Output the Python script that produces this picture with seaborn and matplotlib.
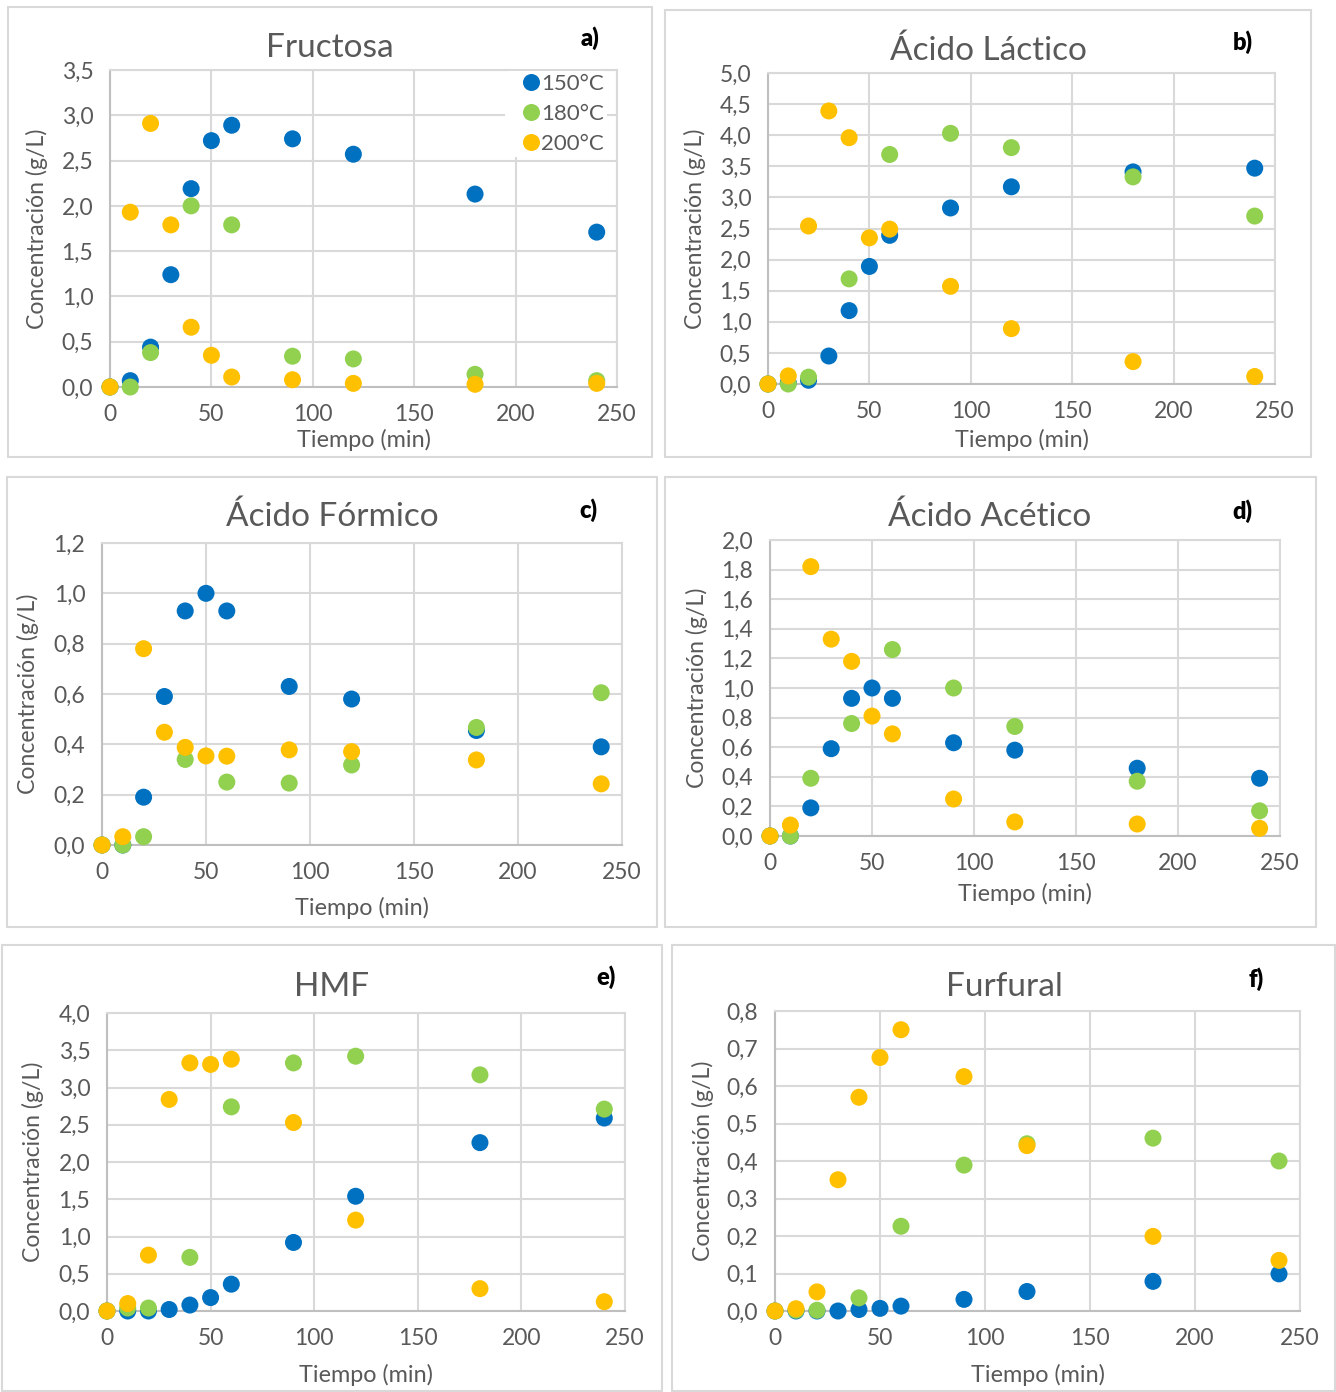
import numpy as np
import pandas as pd
import matplotlib
matplotlib.use("Agg")
import matplotlib.pyplot as plt
import seaborn as sns
from matplotlib.ticker import FuncFormatter, MultipleLocator
from matplotlib.patches import Rectangle

# ---------------- data ----------------
times150 = [0, 10, 20, 30, 40, 50, 60, 90, 120, 180, 240]
times180 = [0, 10, 20, 40, 60, 90, 120, 180, 240]
times200 = [0, 10, 20, 30, 40, 50, 60, 90, 120, 180, 240]
temps = ["150°C", "180°C", "200°C"]

fru150 = [0.0, 0.07, 0.44, 1.24, 2.19, 2.72, 2.89, 2.74, 2.57, 2.13, 1.71]
fru180 = [0.0, 0.0, 0.38, 2.00, 1.79, 0.34, 0.31, 0.14, 0.07]
fru200 = [0.0, 1.93, 2.91, 1.79, 0.66, 0.35, 0.11, 0.08, 0.04, 0.03, 0.04]

lac150 = [0.0, 0.02, 0.06, 0.45, 1.18, 1.89, 2.39, 2.83, 3.17, 3.41, 3.47]
lac180 = [0.0, 0.0, 0.11, 1.69, 3.69, 4.03, 3.80, 3.33, 2.70]
lac200 = [0.0, 0.13, 2.54, 4.39, 3.96, 2.35, 2.49, 1.57, 0.89, 0.36, 0.12]

for150 = [0.0, 0.0, 0.19, 0.59, 0.93, 1.00, 0.93, 0.63, 0.58, 0.455, 0.39]
for180 = [0.0, 0.0, 0.033, 0.34, 0.25, 0.246, 0.318, 0.467, 0.605]
for200 = [0.0, 0.033, 0.78, 0.448, 0.388, 0.354, 0.353, 0.378, 0.371, 0.338, 0.243]

ace150 = [0.0, 0.0, 0.19, 0.59, 0.93, 1.00, 0.93, 0.63, 0.58, 0.458, 0.39]
ace180 = [0.0, 0.0, 0.39, 0.76, 1.26, 1.00, 0.74, 0.37, 0.17]
ace200 = [0.0, 0.074, 1.82, 1.33, 1.18, 0.81, 0.69, 0.25, 0.095, 0.081, 0.052]

hmf150 = [0.0, 0.0, 0.0, 0.02, 0.08, 0.18, 0.36, 0.92, 1.54, 2.26, 2.59]
hmf180 = [0.0, 0.04, 0.04, 0.72, 2.74, 3.33, 3.42, 3.17, 2.71]
hmf200 = [0.0, 0.10, 0.75, 2.84, 3.33, 3.31, 3.38, 2.53, 1.22, 0.30, 0.125]

fur150 = [0.0, 0.0, 0.0, 0.0, 0.004, 0.007, 0.013, 0.031, 0.052, 0.079, 0.099]
fur180 = [0.0, 0.002, 0.002, 0.035, 0.226, 0.389, 0.446, 0.461, 0.40]
fur200 = [0.0, 0.006, 0.051, 0.35, 0.57, 0.676, 0.75, 0.625, 0.441, 0.199, 0.135]

titles = ["Fructosa", "Ácido Láctico", "Ácido Fórmico", "Ácido Acético", "HMF", "Furfural"]
letters = ["a)", "b)", "c)", "d)", "e)", "f)"]
ymax = [3.5, 5.0, 1.2, 2.0, 4.0, 0.8]
ystep = [0.5, 0.5, 0.2, 0.2, 0.5, 0.1]
series = [(fru150, fru180, fru200), (lac150, lac180, lac200), (for150, for180, for200),
          (ace150, ace180, ace200), (hmf150, hmf180, hmf200), (fur150, fur180, fur200)]

# ---------------- style ----------------
sns.set_theme(style="white")
plt.rcParams["font.family"] = ["Lato", "DejaVu Sans"]
TXT = "#595959"
GRID = "#D9D9D9"
palette = {"150°C": "#0070C0", "180°C": "#92D050", "200°C": "#FFC000"}

W, H = 1336, 1392
fig = plt.figure(figsize=(W / 100, H / 100), dpi=100)

def fx(x):
    return x / W

def fy(y):
    return 1 - y / H

# layout in pixels
plot_boxes = [(110, 70, 617, 387), (768, 73, 1275, 384), (102, 543, 622, 845),
              (770, 540, 1280, 836), (107, 1013, 625, 1311), (775, 1011, 1300, 1311)]
frames = [(8, 7, 652, 457), (665, 10, 1311, 457), (7, 477, 657, 927),
          (665, 477, 1316, 927), (2, 945, 662, 1391), (672, 945, 1335, 1391)]
title_pos = [(330, 48), (988, 51), (332, 517), (990, 517), (332, 987), (1004, 987)]
letter_pos = [(590, 38), (1243, 42), (588, 510), (1242, 511), (606, 977), (1256, 979)]
ylabel_x = [37, 695, 28, 697, 33, 703]
xlabel_y = [440, 440, 908, 894, 1375, 1375]

def comma(v, pos):
    return f"{v:.1f}".replace(".", ",")

for i in range(6):
    l, t, r, b = frames[i]
    fig.add_artist(Rectangle((fx(l), fy(b)), fx(r - l), (b - t) / H, transform=fig.transFigure,
                             facecolor="none", edgecolor=GRID, linewidth=1.5))
    x0, y0, x1, y1 = plot_boxes[i]
    ax = fig.add_axes([fx(x0), fy(y1), fx(x1 - x0), (y1 - y0) / H])
    s150, s180, s200 = series[i]
    df = pd.DataFrame({
        "t": times150 + times180 + times200,
        "c": s150 + s180 + s200,
        "T": [temps[0]] * len(times150) + [temps[1]] * len(times180) + [temps[2]] * len(times200),
    })
    sns.scatterplot(data=df, x="t", y="c", hue="T", palette=palette, hue_order=temps,
                    s=150, linewidth=0, ax=ax, legend=(i == 0), clip_on=False, zorder=3)
    ax.set_xlim(0, 250)
    ax.set_ylim(0, ymax[i])
    ax.xaxis.set_major_locator(MultipleLocator(50))
    ax.yaxis.set_major_locator(MultipleLocator(ystep[i]))
    ax.yaxis.set_major_formatter(FuncFormatter(comma))
    ax.grid(True, color=GRID, linewidth=1.5, zorder=0)
    ax.set_axisbelow(True)
    for sp in ax.spines.values():
        sp.set_color(GRID)
        sp.set_linewidth(1.5)
    ax.spines["left"].set_color("#BFBFBF")
    ax.spines["bottom"].set_color("#BFBFBF")
    ax.tick_params(axis="both", length=0, labelsize=16.5, colors=TXT)
    ax.tick_params(axis="y", pad=12)
    ax.tick_params(axis="x", pad=12)
    ax.set_xlabel("")
    ax.set_ylabel("")
    fig.text(fx(title_pos[i][0]), fy(title_pos[i][1]), titles[i], ha="center", va="center",
             fontsize=24, color=TXT)
    fig.text(fx(letter_pos[i][0]), fy(letter_pos[i][1]), letters[i], ha="center", va="center",
             fontsize=17, color="black", fontweight="heavy")
    fig.text(fx(ylabel_x[i]), fy((y0 + y1) / 2), "Concentración (g/L)", ha="center", va="center",
             rotation=90, fontsize=16.6, color=TXT)
    fig.text(fx((x0 + x1) / 2), fy(xlabel_y[i]), "Tiempo (min)", ha="center", va="center",
             fontsize=16.8, color=TXT)
    if i == 0:
        leg = ax.legend(loc="upper right", bbox_to_anchor=(0.985, 1.005), frameon=True, fontsize=16,
                        handletextpad=-0.55, labelspacing=0.45, borderpad=0.15, borderaxespad=0.1,
                        markerscale=1.0)
        leg.get_frame().set_facecolor("white")
        leg.get_frame().set_edgecolor("none")
        leg.get_frame().set_alpha(1)
        for txt in leg.get_texts():
            txt.set_color(TXT)

fig.savefig("out.png", dpi=100, facecolor="white")
